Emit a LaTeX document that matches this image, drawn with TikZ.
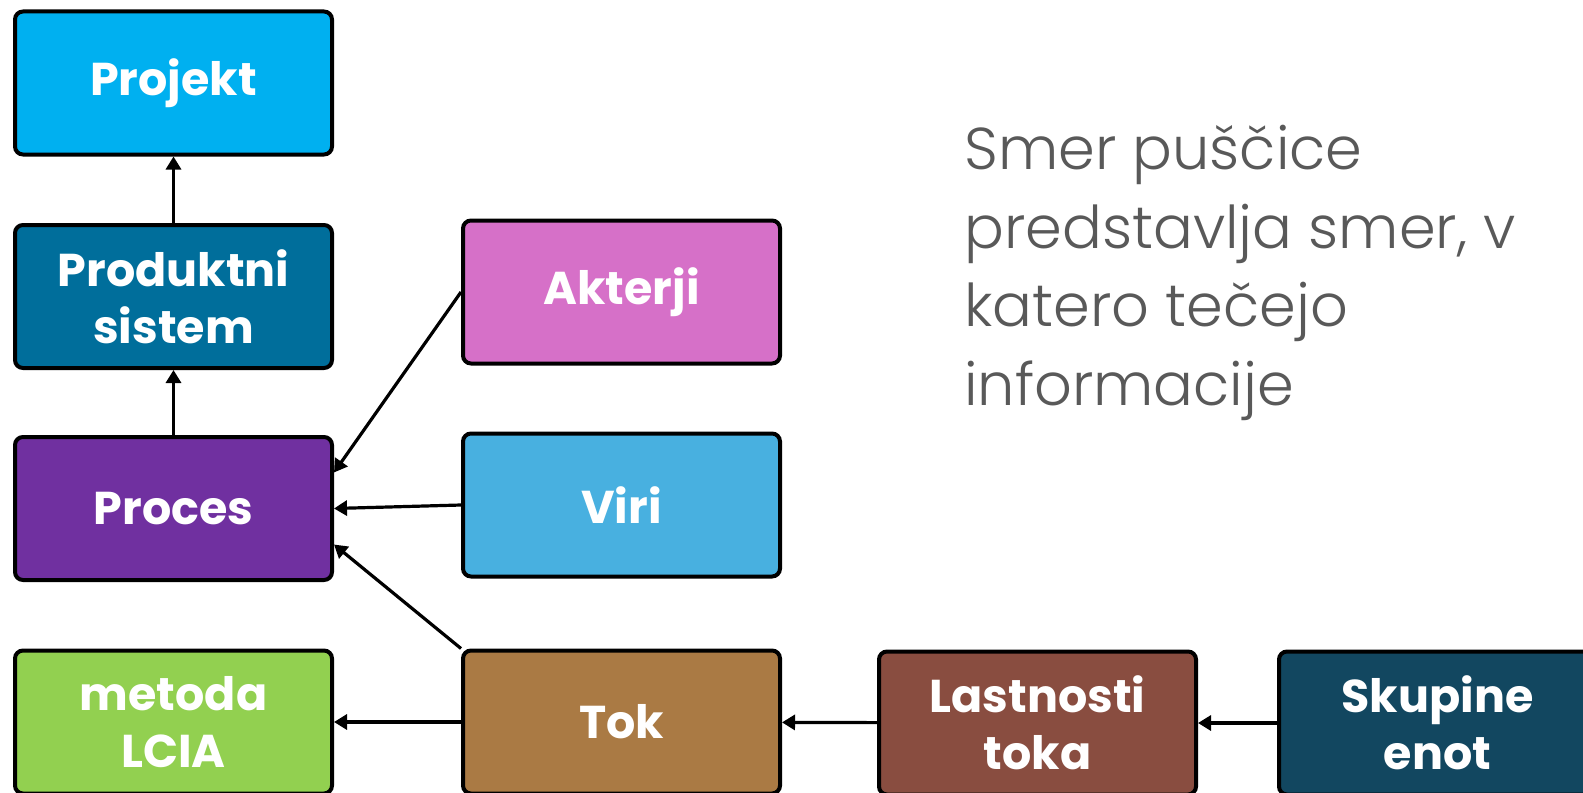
\documentclass[tikz,border=0pt]{standalone}
\usepackage{fontspec}
\setsansfont{Poppins}
\newfontfamily\notefont{Poppins Light}
\usetikzlibrary{arrows.meta}
\definecolor{projc}{RGB}{0,176,240}
\definecolor{sistc}{RGB}{0,110,155}
\definecolor{procc}{RGB}{112,48,160}
\definecolor{lciac}{RGB}{146,208,80}
\definecolor{aktc}{RGB}{214,112,200}
\definecolor{viric}{RGB}{72,176,224}
\definecolor{tokc}{RGB}{170,122,68}
\definecolor{lastc}{RGB}{137,77,64}
\definecolor{skupc}{RGB}{18,71,96}
\definecolor{notec}{RGB}{89,89,89}
\tikzset{
  blk/.style={draw,line width=2pt,rounded corners=4pt,align=center,text=white,
    font=\sffamily\bfseries\fontsize{23}{28.5}\selectfont,
    minimum width=158.5pt,minimum height=71.5pt,inner sep=0pt},
  note/.style={align=left,inner sep=0pt,text=notec,font=\notefont\fontsize{29.5}{39.2}\selectfont},
  ar/.style={-{Triangle[length=6.5pt,width=7.5pt]},line width=1.6pt},
}
\begin{document}
\begin{tikzpicture}[x=0.5pt,y=-0.5pt]
  \useasboundingbox (0,0) rectangle (1583,792);
  \node[blk,fill=projc] (projekt) at (173.5,83) {Projekt};
  \node[blk,fill=sistc] (sistem) at (173.5,296.5) {Produktni\\sistem};
  \node[blk,fill=procc] (proces) at (173.5,508.5) {Proces};
  \node[blk,fill=lciac] (lcia) at (173.5,722) {metoda\\LCIA};
  \node[blk,fill=aktc] (akterji) at (621.5,292) {Akterji};
  \node[blk,fill=viric] (viri) at (621.5,505) {Viri};
  \node[blk,fill=tokc] (tok) at (621.5,722) {Tok};
  \node[blk,fill=lastc] (lastnosti) at (1037.5,723) {Lastnosti\\toka};
  \node[blk,fill=skupc] (skupine) at (1437.5,723) {Skupine\\enot};
  \node[note,anchor=base west] (smer) at (964,405) {Smer puščice\\predstavlja smer, v\\katero tečejo\\informacije};
  \draw[ar] (sistem) -- (projekt);
  \draw[ar] (proces) -- (sistem);
  \draw[ar] (akterji.west) -- ([yshift=18pt]proces.east);
  \draw[ar] (viri.west) -- (proces.east);
  \draw[ar] (tok.north west) -- ([yshift=-18pt]proces.east);
  \draw[ar] (tok) -- (lcia);
  \draw[ar] (lastnosti) -- (tok);
  \draw[ar] (skupine) -- (lastnosti);
\end{tikzpicture}
\end{document}
